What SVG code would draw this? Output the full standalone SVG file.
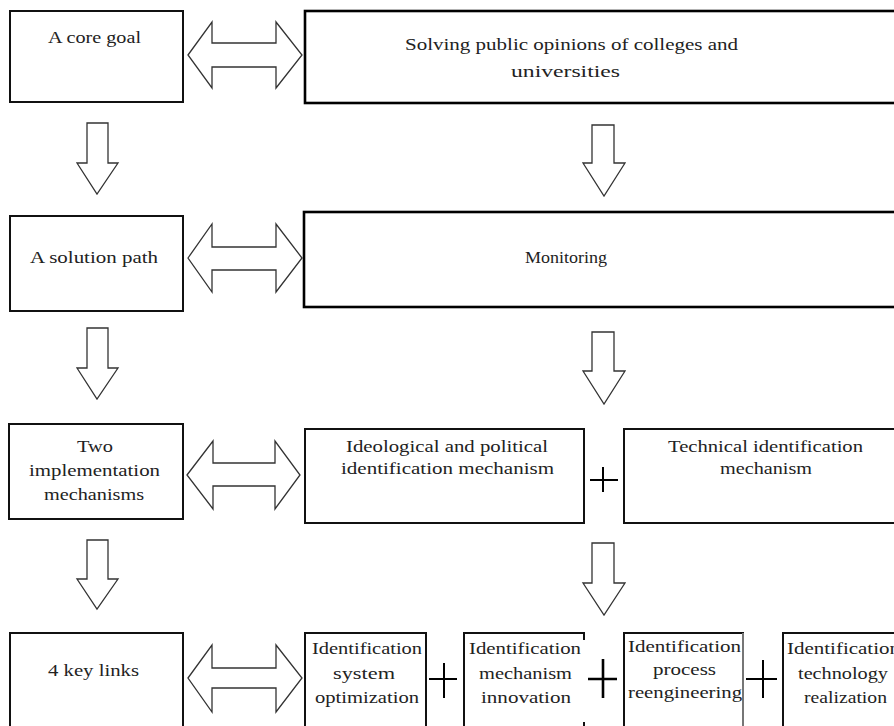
<svg xmlns="http://www.w3.org/2000/svg" width="894" height="726" viewBox="0 0 894 726">
<style>
.box{fill:#fff;stroke:#111;stroke-width:2}
.bx{fill:#fff;stroke:#000;stroke-width:2.6}
text{font-family:'Liberation Serif','DejaVu Serif',serif;font-size:16px;fill:#222}
.arr{fill:#fff;stroke:#333;stroke-width:1.3;stroke-linejoin:miter}
.plus{stroke:#000;stroke-width:2;fill:none}
</style>
<rect width="894" height="726" fill="#fff"/>
<g id="connectors">
<polygon class="arr" points="188,55 212,22 212,43 276,43 276,22 302,55 276,88 276,67 212,67 212,88"/>
<polygon class="arr" points="188,258 212,224 212,247 276,247 276,224 302,258 276,292 276,270 212,270 212,292"/>
<polygon class="arr" points="187,475 213,441 213,463 275,463 275,441 300,475 275,509 275,486 213,486 213,509"/>
<polygon class="arr" points="188,678 212,645 212,668 276,668 276,645 302,678 276,712 276,688 212,688 212,712"/>
<polygon class="arr" points="87,123 108,123 108,163 118,163 97,194 77,163 87,163"/>
<polygon class="arr" points="592,125 614,125 614,163 625,163 604,196 583,163 592,163"/>
<polygon class="arr" points="87,328 108,328 108,368 118,368 97,399 77,368 87,368"/>
<polygon class="arr" points="592,332 614,332 614,371 625,371 604,404 583,371 592,371"/>
<polygon class="arr" points="87,540 108,540 108,579 118,579 97,609 77,579 87,579"/>
<polygon class="arr" points="592,543 614,543 614,583 625,583 604,615 583,583 592,583"/>
<path class="plus" d="M590 480H618M603 467V492"/>
<path class="plus" d="M429 679H457M444 663V698"/>
<path class="plus" d="M588 679H617M603 659V698" style="stroke-width:2.6"/>
<path class="plus" d="M746 679H777M763 660V698"/>
</g>
<g id="n1"><rect class="box" x="10" y="11" width="173" height="91"/>
<text x="48" y="43" textLength="93" lengthAdjust="spacingAndGlyphs">A core goal</text></g>
<g id="n2"><rect class="bx" x="305" y="11" width="600" height="92"/>
<text x="405" y="50" textLength="333" lengthAdjust="spacingAndGlyphs">Solving public opinions of colleges and</text>
<text x="511" y="77" textLength="109" lengthAdjust="spacingAndGlyphs">universities</text></g>
<g id="n3"><rect class="box" x="10" y="216" width="173" height="95"/>
<text x="30" y="263" textLength="128" lengthAdjust="spacingAndGlyphs">A solution path</text></g>
<g id="n4"><rect class="bx" x="304" y="212" width="600" height="95"/>
<text x="525" y="263" textLength="82" lengthAdjust="spacingAndGlyphs">Monitoring</text></g>
<g id="n5"><rect class="box" x="9" y="424" width="174" height="95"/>
<text x="77" y="452" textLength="36" lengthAdjust="spacingAndGlyphs">Two</text>
<text x="29" y="476" textLength="131" lengthAdjust="spacingAndGlyphs">implementation</text>
<text x="44" y="500" textLength="100" lengthAdjust="spacingAndGlyphs">mechanisms</text></g>
<g id="n6"><rect class="box" x="305" y="429" width="279" height="94"/>
<text x="346" y="452" textLength="202" lengthAdjust="spacingAndGlyphs">Ideological and political</text>
<text x="341" y="474" textLength="213" lengthAdjust="spacingAndGlyphs">identification mechanism</text></g>
<g id="n7"><rect class="box" x="624" y="429" width="280" height="94"/>
<text x="668" y="452" textLength="195" lengthAdjust="spacingAndGlyphs">Technical identification</text>
<text x="720" y="474" textLength="92" lengthAdjust="spacingAndGlyphs">mechanism</text></g>
<g id="n8"><rect class="box" x="10" y="633" width="173" height="100"/>
<text x="48" y="676" textLength="91" lengthAdjust="spacingAndGlyphs">4 key links</text></g>
<g id="n9"><rect class="box" x="305" y="633" width="121" height="100"/>
<text x="312" y="654" textLength="110" lengthAdjust="spacingAndGlyphs">Identification</text>
<text x="333" y="679" textLength="62" lengthAdjust="spacingAndGlyphs">system</text>
<text x="315" y="703" textLength="104" lengthAdjust="spacingAndGlyphs">optimization</text></g>
<g id="n10"><path d="M584 640V633H464V733" fill="none" stroke="#111" stroke-width="2"/>
<path d="M584 722V733" fill="none" stroke="#111" stroke-width="2"/>
<text x="469" y="654" textLength="112" lengthAdjust="spacingAndGlyphs">Identification</text>
<text x="479" y="679" textLength="93" lengthAdjust="spacingAndGlyphs">mechanism</text>
<text x="481" y="703" textLength="90" lengthAdjust="spacingAndGlyphs">innovation</text></g>
<g id="n11"><path d="M743 733V633H624V733" fill="none" stroke="#111" stroke-width="2"/>
<path d="M743 633V733" fill="none" stroke="#999" stroke-width="1.5"/>
<text x="628" y="652" textLength="113" lengthAdjust="spacingAndGlyphs">Identification</text>
<text x="653" y="675" textLength="63" lengthAdjust="spacingAndGlyphs">process</text>
<text x="628" y="698" textLength="114" lengthAdjust="spacingAndGlyphs">reengineering</text></g>
<g id="n12"><rect class="box" x="783" y="633" width="130" height="100"/>
<text x="787" y="654" textLength="113" lengthAdjust="spacingAndGlyphs">Identification</text>
<text x="798" y="679" textLength="90" lengthAdjust="spacingAndGlyphs">technology</text>
<text x="804" y="703" textLength="83" lengthAdjust="spacingAndGlyphs">realization</text></g>
</svg>
